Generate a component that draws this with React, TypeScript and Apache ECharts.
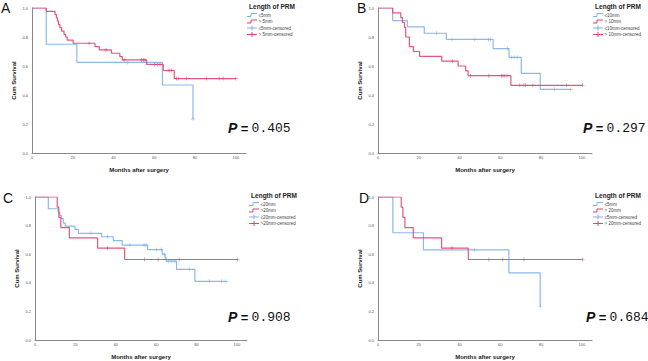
import React, { useEffect, useRef } from "react";
import * as echarts from "echarts";

// ---------- data ----------
const MONTH_TICKS = [0, 20, 40, 60, 80, 100];
const SURV_TICKS = [0, 0.2, 0.4, 0.6, 0.8, 1.0];
const PANEL_LETTERS = ["A", "B", "C", "D"];
const P_VALUES = ["0.405", "0.297", "0.908", "0.684"];
const LEGEND_TITLE = "Length of PRM";
const X_TITLE = "Months after surgery";
const Y_TITLE = "Cum Survival";

const LEGEND_A = ["≤5mm", "> 5mm", "≤5mm-censored", "> 5mm-censored"];
const LEGEND_B = ["≤10mm", "> 10mm", "≤10mm-censored", "> 10mm-censored"];
const LEGEND_C = ["≤20mm", ">20mm", "≤20mm-censored", ">20mm-censored"];
const LEGEND_D = ["≤5mm", "> 20mm", "≤5mm-censored", "> 20mm-censored"];

// Panel A
const A_LOW_STEPS = [[0, 1], [7, 0.75], [22, 0.625], [64, 0.469], [79, 0.234]];
const A_LOW_CENS = [[47, 0.625], [79, 0.234]];
const A_HIGH_STEPS = [
  [0, 1], [7, 0.977], [11.3, 0.955], [12, 0.932], [12.5, 0.909], [13, 0.886], [13.7, 0.864],
  [14.5, 0.841], [15.7, 0.818], [16.5, 0.8], [17.3, 0.778], [20.2, 0.757], [30.9, 0.734],
  [33, 0.711], [39, 0.688], [43.1, 0.665], [44.3, 0.642], [56.2, 0.611], [64.4, 0.569],
  [69.8, 0.513], [100, 0.513],
];
const A_HIGH_CENS = [
  [28, 0.757], [36.3, 0.711], [45.2, 0.642], [53.8, 0.642], [54.6, 0.642], [55.4, 0.642],
  [60, 0.611], [61.5, 0.611], [62.8, 0.611], [66.8, 0.569], [67.6, 0.569], [68.5, 0.569],
  [70.9, 0.513], [71.7, 0.513], [75.8, 0.513], [85.6, 0.513], [91.8, 0.513], [93.8, 0.513], [100, 0.513],
];

// Panel B
const B_LOW_STEPS = [
  [0, 1], [7.2, 0.913], [14.4, 0.87], [22.7, 0.826], [33.5, 0.783], [56.5, 0.72],
  [64.3, 0.66], [70.3, 0.549], [79.6, 0.439], [94.6, 0.439],
];
const B_LOW_CENS = [
  [28.6, 0.826], [36.3, 0.783], [47.5, 0.783], [54.3, 0.783], [55.2, 0.783], [63.4, 0.72],
  [65.5, 0.66], [66.8, 0.66], [68.3, 0.66], [86.5, 0.439], [94.6, 0.439],
];
const B_HIGH_STEPS = [
  [0, 1], [7.2, 0.967], [11.2, 0.933], [12, 0.9], [13, 0.867], [13.6, 0.8], [15.4, 0.733],
  [17.4, 0.7], [20.4, 0.667], [31.3, 0.633], [39.3, 0.6], [43, 0.567], [44.2, 0.533],
  [65.2, 0.467], [100.3, 0.467],
];
const B_HIGH_CENS = [
  [36.5, 0.633], [45.3, 0.533], [54.4, 0.533], [60.5, 0.533], [61.3, 0.533], [62.2, 0.533],
  [63.3, 0.533], [69.6, 0.467], [71.6, 0.467], [72.4, 0.467], [76, 0.467], [92.5, 0.467], [100.3, 0.467],
];

// Panel C
const C_LOW_STEPS = [
  [0, 1], [6.6, 0.918], [11.5, 0.895], [12.2, 0.872], [13, 0.849], [14, 0.818], [15, 0.796],
  [19.8, 0.773], [21.5, 0.746], [33, 0.722], [38.8, 0.695], [43.2, 0.664], [55.8, 0.632],
  [63, 0.6], [64.4, 0.575], [65, 0.551], [70.1, 0.494], [79.2, 0.41], [94.6, 0.41],
];
const C_LOW_CENS = [
  [27.7, 0.746], [36, 0.722], [47, 0.664], [54, 0.664], [55, 0.664], [60.2, 0.632], [62.5, 0.632],
  [64, 0.6], [66, 0.551], [67.7, 0.551], [69.3, 0.551], [76.4, 0.494], [86.3, 0.41], [92.4, 0.41], [94.6, 0.41],
];
const C_HIGH_STEPS = [
  [0, 1], [11, 0.929], [11.8, 0.857], [12.8, 0.786], [17, 0.714], [31, 0.643], [44.4, 0.563], [100.3, 0.563],
];
const C_HIGH_CENS = [[35.9, 0.643], [54.2, 0.563], [61, 0.563], [71.4, 0.563], [100.3, 0.563]];

// Panel D
const D_LOW_STEPS = [[0, 1], [7.3, 0.75], [22.3, 0.63], [64.2, 0.47], [79.6, 0.236]];
const D_LOW_CENS = [[47.3, 0.63], [79.6, 0.236]];
const D_HIGH_STEPS = [
  [0, 1], [11.4, 0.929], [12.2, 0.857], [13.2, 0.786], [17.3, 0.714], [31.2, 0.643], [44.3, 0.563], [100.3, 0.563],
];
const D_HIGH_CENS = [[36.3, 0.643], [54.4, 0.563], [61.2, 0.563], [71.6, 0.563], [100.3, 0.563]];

const PANEL_DATA = [
  { legend: LEGEND_A, low: A_LOW_STEPS, lowC: A_LOW_CENS, high: A_HIGH_STEPS, highC: A_HIGH_CENS },
  { legend: LEGEND_B, low: B_LOW_STEPS, lowC: B_LOW_CENS, high: B_HIGH_STEPS, highC: B_HIGH_CENS },
  { legend: LEGEND_C, low: C_LOW_STEPS, lowC: C_LOW_CENS, high: C_HIGH_STEPS, highC: C_HIGH_CENS },
  { legend: LEGEND_D, low: D_LOW_STEPS, lowC: D_LOW_CENS, high: D_HIGH_STEPS, highC: D_HIGH_CENS },
];

// ---------- layout / style ----------
const LAYOUT = [
  { left: 32, top: 8, width: 214, height: 145, letter: [1, 8], legend: [247, 6], p: [228, 128] },
  { left: 378, top: 8, width: 214, height: 145, letter: [357, 8], legend: [593, 6], p: [583, 128] },
  { left: 35, top: 197, width: 212, height: 146, letter: [3, 198], legend: [249, 195], p: [228, 317] },
  { left: 378, top: 197, width: 214, height: 146, letter: [359, 198], legend: [593, 195], p: [586, 317] },
];
const BLUE = "#7fb0ea";
const RED = "#e6416f";
const FONT = '"Liberation Sans", Arial, sans-serif';
const PLUS =
  "path://M-0.16,-1 L0.16,-1 L0.16,-0.16 L1,-0.16 L1,0.16 L0.16,0.16 L0.16,1 L-0.16,1 L-0.16,0.16 L-1,0.16 L-1,-0.16 L-0.16,-0.16 Z";

function buildOption() {
  const grid: any[] = [];
  const xAxis: any[] = [];
  const yAxis: any[] = [];
  const series: any[] = [];
  const graphic: any[] = [];

  LAYOUT.forEach((L, i) => {
    const D = PANEL_DATA[i];
    grid.push({ left: L.left, top: L.top, width: L.width, height: L.height, containLabel: false });
    xAxis.push({
      gridIndex: i,
      type: "value",
      min: 0,
      max: 105,
      name: X_TITLE,
      nameLocation: "middle",
      nameGap: 14,
      nameTextStyle: { fontSize: 6, fontWeight: "bold", color: "#222", fontFamily: FONT },
      axisLine: { show: true, onZero: false, lineStyle: { color: "#8a8a8a", width: 1 } },
      axisTick: { show: false },
      splitLine: { show: false },
      axisLabel: { customValues: MONTH_TICKS, fontSize: 4, color: "#555", margin: 2, fontFamily: FONT },
    });
    yAxis.push({
      gridIndex: i,
      type: "value",
      min: 0,
      max: 1,
      name: Y_TITLE,
      nameLocation: "middle",
      nameGap: 15,
      nameTextStyle: { fontSize: 6, fontWeight: "bold", color: "#222", fontFamily: FONT },
      axisLine: { show: true, onZero: false, lineStyle: { color: "#8a8a8a", width: 1 } },
      axisTick: { show: false },
      splitLine: { show: false },
      axisLabel: {
        customValues: SURV_TICKS,
        formatter: (v: number) => v.toFixed(1),
        fontSize: 4,
        color: "#555",
        margin: 4,
        fontFamily: FONT,
      },
    });
    const mk = (name: string, data: number[][], color: string) => ({
      name,
      type: "line",
      xAxisIndex: i,
      yAxisIndex: i,
      data,
      step: "end",
      symbol: "none",
      silent: true,
      lineStyle: { color, width: 1.2, opacity: 0.9 },
    });
    const mc = (name: string, data: number[][], color: string) => ({
      name,
      type: "scatter",
      xAxisIndex: i,
      yAxisIndex: i,
      data,
      symbol: PLUS,
      symbolSize: 4,
      silent: true,
      itemStyle: { color },
    });
    series.push(mk(D.legend[0], D.low, BLUE));
    series.push(mk(D.legend[1], D.high, RED));
    series.push(mc(D.legend[2], D.lowC, BLUE));
    series.push(mc(D.legend[3], D.highC, RED));

    // panel letter
    graphic.push({
      type: "text",
      x: L.letter[0],
      y: L.letter[1],
      style: { text: PANEL_LETTERS[i], fontSize: 14, fontFamily: FONT, fill: "#111", verticalAlign: "middle" },
    });
    // legend
    const lx = L.legend[0];
    const ly = L.legend[1];
    graphic.push({
      type: "text",
      x: lx + 25,
      y: ly,
      style: {
        text: LEGEND_TITLE,
        fontSize: 6.5,
        fontWeight: "bold",
        fontFamily: FONT,
        fill: "#222",
        align: "center",
        verticalAlign: "middle",
      },
    });
    const rowY = [ly + 9, ly + 15.5, ly + 22, ly + 28.5];
    const cols = [BLUE, RED, BLUE, RED];
    rowY.forEach((ry, k) => {
      if (k < 2) {
        graphic.push({
          type: "polyline",
          shape: { points: [[lx, ry + 1.5], [lx + 4, ry + 1.5], [lx + 4, ry - 1.5], [lx + 10, ry - 1.5]] },
          style: { stroke: cols[k], fill: "none", lineWidth: 1 },
        });
      } else {
        graphic.push({
          type: "line",
          shape: { x1: lx, y1: ry, x2: lx + 10, y2: ry },
          style: { stroke: cols[k], lineWidth: 1 },
        });
        graphic.push({
          type: "line",
          shape: { x1: lx + 5, y1: ry - 2.5, x2: lx + 5, y2: ry + 2.5 },
          style: { stroke: cols[k], lineWidth: 1 },
        });
      }
      graphic.push({
        type: "text",
        x: lx + 11.5,
        y: ry,
        style: { text: D.legend[k], fontSize: 4.5, fontFamily: FONT, fill: "#444", verticalAlign: "middle" },
      });
    });
    // p-value
    graphic.push({
      type: "text",
      x: L.p[0],
      y: L.p[1],
      style: {
        text: "{p|P} {e|=} {n|" + P_VALUES[i] + "}",
        verticalAlign: "middle",
        rich: {
          p: { fontSize: 14, fontWeight: "bold", fontStyle: "italic", fontFamily: FONT, fill: "#111" },
          e: { fontSize: 13, fontWeight: "bold", fontFamily: FONT, fill: "#111" },
          n: { fontSize: 13, fontFamily: '"Liberation Mono", "DejaVu Sans Mono", monospace', fill: "#111" },
        },
      },
    });
  });

  return {
    animation: false,
    backgroundColor: "#ffffff",
    grid,
    xAxis,
    yAxis,
    series,
    graphic,
  };
}

export default function App() {
  const ref = useRef<HTMLDivElement>(null);
  useEffect(() => {
    if (!ref.current) return;
    const chart = echarts.init(ref.current, undefined, { renderer: "svg" });
    chart.setOption(buildOption() as any);
    return () => chart.dispose();
  }, []);
  return (
    <div
      ref={ref}
      style={{ position: "absolute", left: 0, top: 0, width: 648, height: 361, background: "#fff" }}
    />
  );
}
